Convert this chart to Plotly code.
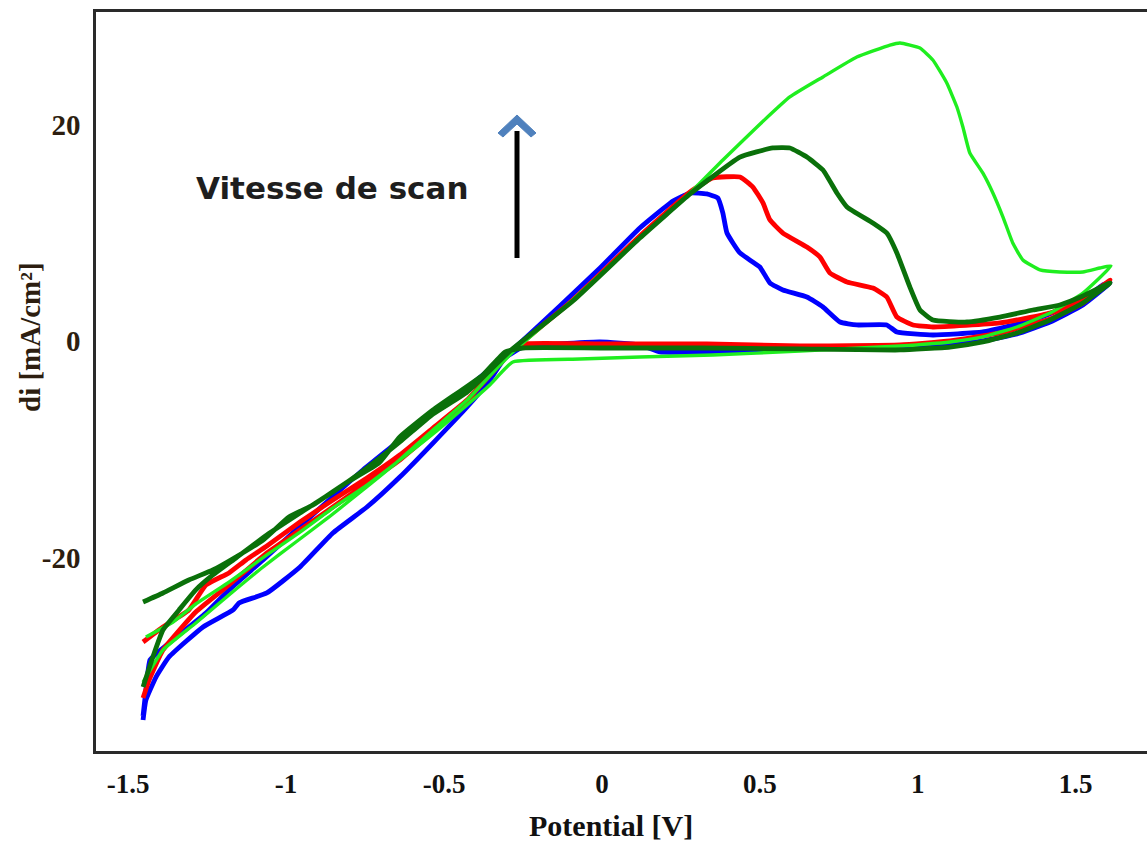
import plotly.graph_objects as go

# ---------------- data (Potential [V], di [mA/cm2]) ----------------
blue_v = [-1.453, -1.444, -1.431, -1.390, -1.339, -1.254, -1.181, -1.073, -0.969, -0.864,
          -0.757, -0.640, -0.535, -0.427, -0.291, -0.133, -0.006, 0.120, 0.225, 0.279,
          0.332, 0.367, 0.383, 0.396, 0.437, 0.500, 0.532, 0.573, 0.649, 0.700,
          0.754, 0.807, 0.902, 0.934, 1.048, 1.206, 1.365, 1.523, 1.586, 1.609,
          1.523, 1.419, 1.314, 1.206, 1.102, 0.944, 0.627, 0.288, 0.184, 0.120,
          -0.006, -0.133, -0.250, -0.307, -0.355, -0.427, -0.535, -0.640, -0.744, -0.852,
          -0.956, -1.061, -1.149, -1.168, -1.263, -1.371, -1.412, -1.444, -1.453]
blue_i = [-34.62, -32.22, -29.44, -28.33, -27.13, -25.10, -22.97, -20.20, -17.43, -14.66,
          -11.89, -9.12, -6.53, -4.31, -0.99, 3.26, 6.77, 10.47, 12.96, 13.70,
          13.61, 13.24, 11.85, 10.00, 8.16, 6.86, 5.39, 4.74, 4.09, 3.17,
          1.78, 1.51, 1.51, 0.86, 0.58, 0.86, 1.97, 3.82, 5.20, 5.39,
          3.35, 1.78, 0.67, 0.03, -0.34, -0.53, -0.71, -0.99, -0.99, -0.34,
          -0.06, -0.25, -0.53, -1.54, -3.58, -6.07, -9.40, -12.54, -15.31, -17.71,
          -20.85, -23.25, -24.17, -24.82, -26.39, -29.17, -31.02, -33.15, -34.99]

red_v = [-1.453, -1.390, -1.308, -1.254, -1.181, -1.127, -1.061, -0.956, -0.852, -0.744,
         -0.640, -0.535, -0.427, -0.291, -0.092, 0.120, 0.279, 0.351, 0.437, 0.478,
         0.510, 0.532, 0.573, 0.649, 0.690, 0.722, 0.776, 0.858, 0.902, 0.934,
         0.985, 1.048, 1.260, 1.419, 1.523, 1.609,
         1.523, 1.419, 1.260, 1.102, 0.944, 0.627, 0.332, -0.006, -0.250, -0.291,
         -0.377, -0.427, -0.535, -0.640, -0.744, -0.852, -0.956, -1.061, -1.181, -1.286,
         -1.390, -1.434, -1.453]
red_i = [-27.78, -26.39, -24.82, -22.51, -21.40, -20.20, -18.91, -16.69, -14.66, -12.63,
         -10.50, -8.01, -5.43, -1.08, 3.82, 9.73, 13.79, 15.09, 15.18, 14.25,
         12.78, 11.21, 10.00, 8.71, 7.79, 6.31, 5.48, 4.92, 4.09, 2.24,
         1.51, 1.32, 1.69, 2.61, 3.82, 5.66,
         3.54, 2.06, 0.77, 0.03, -0.34, -0.43, -0.25, -0.25, -0.25, -0.99,
         -3.58, -5.70, -8.38, -10.97, -13.09, -15.31, -17.43, -19.56, -22.51, -25.01,
         -28.52, -31.30, -32.96]

dgreen_v = [-1.453, -1.422, -1.390, -1.339, -1.286, -1.232, -1.159, -1.061, -0.956, -0.852,
            -0.744, -0.640, -0.535, -0.427, -0.291, -0.092, 0.120, 0.279, 0.332, 0.437,
            0.541, 0.595, 0.649, 0.700, 0.744, 0.776, 0.858, 0.902, 0.934, 0.975,
            1.007, 1.048, 1.156, 1.260, 1.365, 1.450, 1.523, 1.609,
            1.523, 1.419, 1.314, 1.206, 1.102, 0.944, 0.627, 0.310, -0.006, -0.250,
            -0.307, -0.377, -0.535, -0.640, -0.706, -0.811, -0.915, -0.991, -1.073, -1.159,
            -1.232, -1.308, -1.390, -1.453]
dgreen_i = [-31.94, -29.17, -26.67, -24.82, -22.97, -21.59, -20.02, -17.89, -15.86, -13.92,
            -11.70, -9.30, -6.72, -4.69, -0.90, 3.72, 9.54, 13.61, 14.81, 17.02,
            17.86, 17.86, 17.02, 15.82, 13.70, 12.41, 10.93, 10.00, 8.16, 5.02,
            2.89, 1.97, 1.78, 2.24, 2.89, 3.35, 4.18, 5.39,
            3.54, 1.97, 0.77, -0.06, -0.53, -0.80, -0.71, -0.62, -0.62, -0.62,
            -0.99, -3.11, -6.35, -8.84, -11.24, -13.09, -15.12, -16.23, -18.36, -19.93,
            -21.13, -22.05, -23.25, -24.08]

lgreen_v = [-1.453, -1.390, -1.286, -1.181, -1.073, -0.969, -0.864, -0.757, -0.652, -0.535,
            -0.427, -0.323, -0.282, -0.092, 0.120, 0.279, 0.383, 0.491, 0.595, 0.700,
            0.807, 0.912, 0.944, 1.007, 1.048, 1.092, 1.124, 1.143, 1.165, 1.206,
            1.238, 1.270, 1.301, 1.333, 1.387, 1.450, 1.523, 1.577, 1.612,
            1.523, 1.419, 1.314, 1.206, 1.102, 0.944, 0.627, 0.351, 0.120, -0.070,
            -0.282, -0.355, -0.427, -0.535, -0.640, -0.744, -0.852, -0.956, -1.061, -1.181,
            -1.286, -1.358, -1.444]
lgreen_i = [-31.48, -28.52, -26.02, -23.44, -20.85, -18.54, -16.23, -13.74, -11.24, -8.19,
            -5.43, -2.19, -0.99, 3.82, 9.54, 13.70, 16.75, 19.80, 22.57, 24.42,
            26.26, 27.37, 27.56, 27.09, 25.99, 23.86, 21.64, 19.80, 17.39, 15.55,
            13.70, 11.48, 9.08, 7.51, 6.59, 6.40, 6.40, 6.77, 6.96,
            4.46, 2.61, 1.32, 0.40, -0.06, -0.43, -0.90, -1.27, -1.45, -1.64,
            -1.91, -4.03, -5.88, -8.56, -10.97, -13.28, -15.40, -17.62, -19.74, -22.24,
            -24.27, -25.93, -27.32]

x_tickvals = [-1.5, -1, -0.5, 0, 0.5, 1, 1.5]
x_ticktext = ["-1.5", "-1", "-0.5", "0", "0.5", "1", "1.5"]
y_tickvals = [-20, 0, 20]
y_ticktext = ["-20", "0", "20"]

# ---------------- layout geometry (pixels) ----------------
W, H = 1147, 841
L, R, T, B = 96, 0, 12, 90
PW, PH = W - L - R, H - T - B


def px(x):
    return (x - L) / PW


def py(y):
    return (H - B - y) / PH


fig = go.Figure()
series = [
    (blue_v, blue_i, "#0000ff", 4.8),
    (red_v, red_i, "#ff0000", 4.8),
    (lgreen_v, lgreen_i, "#1fee1f", 3.4),
    (dgreen_v, dgreen_i, "#0a700a", 4.8),
]
for v, i, c, w in series:
    fig.add_trace(go.Scatter(x=v, y=i, mode="lines",
                             line=dict(color=c, width=w, shape="spline", smoothing=0.4),
                             showlegend=False, hoverinfo="skip"))

serif = "Liberation Serif, Times New Roman, serif"
fig.update_layout(
    width=W, height=H,
    margin=dict(l=L, r=R, t=T, b=B, autoexpand=False),
    paper_bgcolor="white", plot_bgcolor="white",
    showlegend=False,
    xaxis=dict(range=[-1.602, 1.726], tickvals=x_tickvals, ticktext=x_ticktext,
               showgrid=False, zeroline=False, showline=True, linecolor="#2a2a2a",
               linewidth=2.5, mirror=True, ticks="", ticklabelstandoff=7,
               tickfont=dict(family=serif, size=27, color="#111111", weight="bold")),
    yaxis=dict(range=[-37.85, 30.42], tickvals=y_tickvals, ticktext=y_ticktext,
               showgrid=False, zeroline=False, showline=True, linecolor="#2a2a2a",
               linewidth=2.5, mirror=False, ticks="", ticklabelstandoff=7,
               tickfont=dict(family=serif, size=29, color="#2d1e10", weight="bold")),
)

# axis titles
fig.add_annotation(x=px(611), y=py(826), xref="paper", yref="paper",
                   text="<b>Potential [V]</b>", showarrow=False,
                   font=dict(family=serif, size=30, color="#111111"),
                   xanchor="center", yanchor="middle")
fig.add_annotation(x=px(30), y=py(337), xref="paper", yref="paper",
                   text="<b>di [mA/cm²]</b>", showarrow=False, textangle=-90,
                   font=dict(family=serif, size=29, color="#2d1e10"),
                   xanchor="center", yanchor="middle")

# annotation text
fig.add_annotation(x=px(332), y=py(188), xref="paper", yref="paper",
                   text="<b>Vitesse de scan</b>", showarrow=False,
                   font=dict(family="DejaVu Sans, Verdana, sans-serif", size=31, color="#1e1e1e"),
                   xanchor="center", yanchor="middle")

# arrow shaft
fig.add_shape(type="line", xref="paper", yref="paper",
              x0=px(517), x1=px(517), y0=py(258), y1=py(131),
              line=dict(color="black", width=5))
# arrow head (chevron)
pts = [(517, 115), (536, 133), (531, 137), (517, 124), (503, 137), (498, 133)]
path = "M " + " L ".join(f"{px(a):.5f},{py(b):.5f}" for a, b in pts) + " Z"
fig.add_shape(type="path", xref="paper", yref="paper", path=path,
              fillcolor="#4f81bd", line=dict(color="#4f81bd", width=1))

fig.write_html("out.html")
